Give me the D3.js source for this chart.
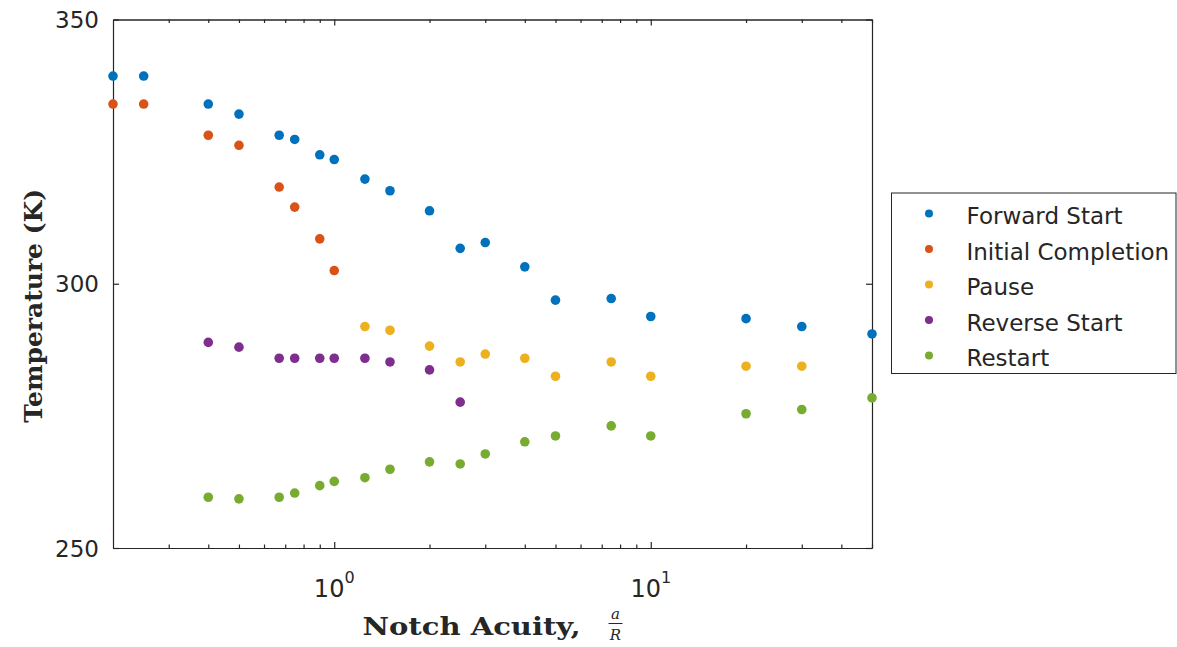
<!DOCTYPE html>
<html>
<head>
<meta charset="utf-8">
<script src="https://cdn.jsdelivr.net/npm/d3@7/dist/d3.min.js"></script>
<style>
  html, body { margin: 0; padding: 0; background: #fff; }
  svg { display: block; }
  .tick-label { font-family: "DejaVu Sans", sans-serif; fill: #262626; }
  .axis-title { font-family: "DejaVu Serif", serif; fill: #262626; }
</style>
</head>
<body>
<div id="chart"></div>
<script>
// Notch acuity a/R for every sample (x values, log axis)
const acuity = [0.2, 0.25, 0.4, 0.5, 0.67, 0.75, 0.9, 1, 1.25, 1.5, 2, 2.5, 3, 4, 5, 7.5, 10, 20, 30, 50];

// Temperatures in K, one per acuity value (null = no reading)
const forwardStart      = [339.3, 339.3, 334.0, 332.1, 328.1, 327.3, 324.4, 323.5, 319.8, 317.6, 313.8, 306.7, 307.8, 303.2, 296.9, 297.2, 293.8, 293.4, 291.9, 290.5];
const initialCompletion = [334.0, 334.0, 328.1, 326.2, 318.3, 314.5, 308.5, 302.5, null, null, null, null, null, null, null, null, null, null, null, null];
const pause             = [null, null, null, null, null, null, null, null, 291.9, 291.2, 288.2, 285.2, 286.7, 285.9, 282.5, 285.2, 282.5, 284.4, 284.4, null];
const reverseStart      = [null, null, 288.9, 288.0, 285.9, 285.9, 285.9, 285.9, 285.9, 285.2, 283.7, 277.6, null, null, null, null, null, null, null, null];
const restart           = [null, null, 259.6, 259.3, 259.6, 260.4, 261.8, 262.6, 263.3, 264.9, 266.3, 265.9, 267.8, 270.1, 271.2, 273.1, 271.2, 275.4, 276.2, 278.4];

const seriesNames = ['Forward Start', 'Initial Completion', 'Pause', 'Reverse Start', 'Restart'];
const seriesValues = [forwardStart, initialCompletion, pause, reverseStart, restart];
// MATLAB default line colors
const seriesColors = ['#0072BD', '#D95319', '#EDB120', '#7E2F8E', '#77AC30'];

const yTicks = [250, 300, 350];
const xMajorTicks = [1, 10];
const xMinorTicks = [0.3, 0.4, 0.5, 0.6, 0.7, 0.8, 0.9, 2, 3, 4, 5, 6, 7, 8, 9, 20, 30, 40, 50];

const width = 1177, height = 647;
const plot = { left: 113, right: 872, top: 19.5, bottom: 548 };

const svg = d3.select('#chart').append('svg')
  .attr('width', width)
  .attr('height', height);

const x = d3.scaleLog().domain([0.2, 50]).range([plot.left, plot.right]);
const y = d3.scaleLinear().domain([250, 350]).range([plot.bottom, plot.top]);

const axisColor = '#262626';

function styleAxis(g) {
  g.selectAll('path, line').attr('stroke', axisColor).attr('stroke-width', 1.2);
  g.selectAll('text').remove();
}

// inward-pointing ticks on all four sides (MATLAB box on)
svg.append('g').attr('transform', `translate(0,${plot.bottom})`)
  .call(d3.axisBottom(x).tickValues(xMajorTicks).tickSize(-6).tickSizeOuter(0))
  .call(styleAxis);
svg.append('g').attr('transform', `translate(0,${plot.bottom})`)
  .call(d3.axisBottom(x).tickValues(xMinorTicks).tickSize(-3.5).tickSizeOuter(0))
  .call(styleAxis);
svg.append('g').attr('transform', `translate(0,${plot.top})`)
  .call(d3.axisTop(x).tickValues(xMajorTicks).tickSize(-6).tickSizeOuter(0))
  .call(styleAxis);
svg.append('g').attr('transform', `translate(0,${plot.top})`)
  .call(d3.axisTop(x).tickValues(xMinorTicks).tickSize(-3.5).tickSizeOuter(0))
  .call(styleAxis);
svg.append('g').attr('transform', `translate(${plot.left},0)`)
  .call(d3.axisLeft(y).tickValues(yTicks).tickSize(-6).tickSizeOuter(0))
  .call(styleAxis);
svg.append('g').attr('transform', `translate(${plot.right},0)`)
  .call(d3.axisRight(y).tickValues(yTicks).tickSize(-6).tickSizeOuter(0))
  .call(styleAxis);

// y tick labels
svg.append('g').selectAll('text')
  .data(yTicks)
  .join('text')
  .attr('class', 'tick-label')
  .attr('x', plot.left - 14)
  .attr('y', d => y(d) + 8.5)
  .attr('text-anchor', 'end')
  .attr('font-size', 23)
  .text(d => d);

// x tick labels as 10^n
const xl = svg.append('g').selectAll('text')
  .data(xMajorTicks)
  .join('text')
  .attr('class', 'tick-label')
  .attr('x', d => x(d))
  .attr('y', plot.bottom + 49)
  .attr('text-anchor', 'middle')
  .attr('font-size', 24);
xl.append('tspan').text('10');
xl.append('tspan').attr('font-size', 16).attr('dy', -14).text(d => Math.round(Math.log10(d)));

// scatter points
seriesValues.forEach((vals, i) => {
  const pts = acuity.map((a, j) => ({ a, t: vals[j] })).filter(p => p.t != null);
  svg.append('g').selectAll('circle')
    .data(pts)
    .join('circle')
    .attr('cx', d => x(d.a))
    .attr('cy', d => y(d.t))
    .attr('r', 4.8)
    .attr('fill', seriesColors[i]);
});

// axis titles
const midX = (plot.left + plot.right) / 2;
const xTitle = svg.append('g');
xTitle.append('text')
  .attr('class', 'axis-title')
  .attr('x', midX - 130)
  .attr('y', plot.bottom + 87)
  .attr('font-size', 25)
  .attr('font-weight', 'bold')
  .attr('textLength', 218)
  .attr('lengthAdjust', 'spacingAndGlyphs')
  .text('Notch Acuity,');
const fracX = midX + 123;
xTitle.append('text')
  .attr('class', 'axis-title')
  .attr('x', fracX).attr('y', plot.bottom + 71)
  .attr('text-anchor', 'middle')
  .attr('font-size', 15)
  .attr('font-style', 'italic')
  .text('a');
xTitle.append('line')
  .attr('x1', fracX - 7).attr('x2', fracX + 7)
  .attr('y1', plot.bottom + 75.5).attr('y2', plot.bottom + 75.5)
  .attr('stroke', axisColor).attr('stroke-width', 1);
xTitle.append('text')
  .attr('class', 'axis-title')
  .attr('x', fracX).attr('y', plot.bottom + 92)
  .attr('text-anchor', 'middle')
  .attr('font-size', 15)
  .attr('font-style', 'italic')
  .text('R');

svg.append('text')
  .attr('class', 'axis-title')
  .attr('transform', `translate(42,${(plot.top + plot.bottom) / 2 + 22}) rotate(-90)`)
  .attr('text-anchor', 'middle')
  .attr('font-size', 25)
  .attr('font-weight', 'bold')
  .text('Temperature (K)');

// legend
const legend = { x: 891.5, y: 193, w: 284.5, h: 180.5, rowStart: 20.5, rowStep: 35.5 };
const lg = svg.append('g').attr('transform', `translate(${legend.x},${legend.y})`);
lg.append('rect')
  .attr('width', legend.w).attr('height', legend.h)
  .attr('fill', '#fff')
  .attr('stroke', axisColor).attr('stroke-width', 1);
const rows = lg.selectAll('g.row')
  .data(seriesNames)
  .join('g')
  .attr('class', 'row')
  .attr('transform', (d, i) => `translate(0,${legend.rowStart + i * legend.rowStep})`);
rows.append('circle')
  .attr('cx', 37.5).attr('cy', 0).attr('r', 4)
  .attr('fill', (d, i) => seriesColors[i]);
rows.append('text')
  .attr('class', 'tick-label')
  .attr('x', 75).attr('y', 10.5)
  .attr('font-size', 23)
  .text(d => d);
</script>
</body>
</html>
